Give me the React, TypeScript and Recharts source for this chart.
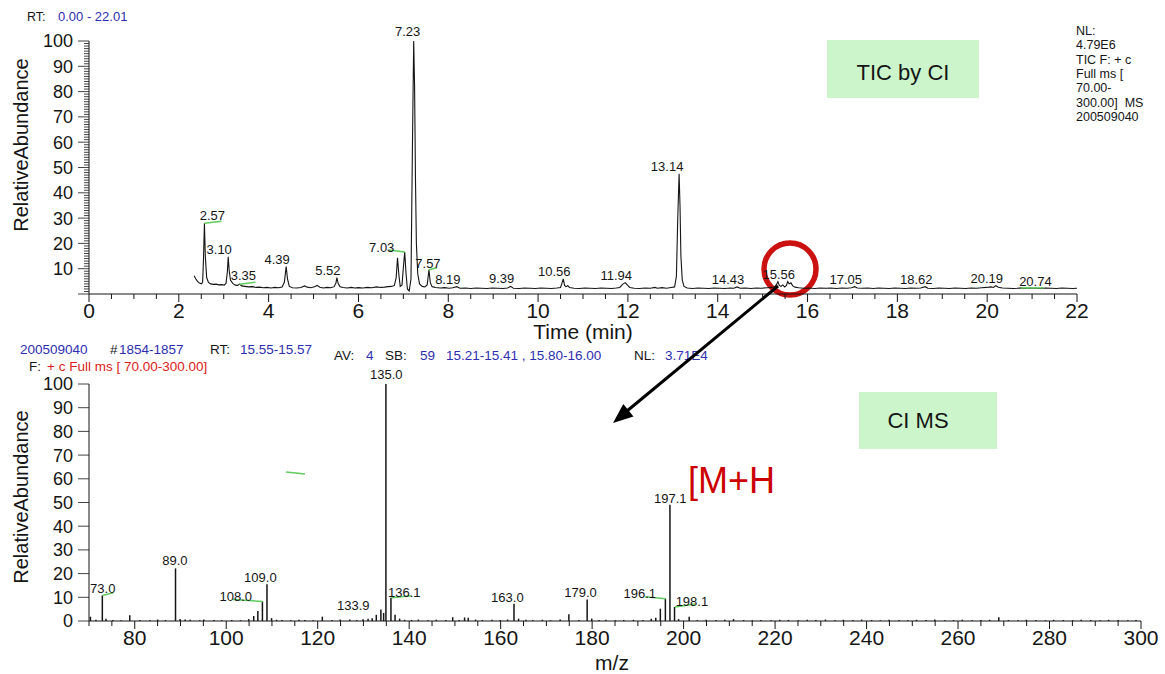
import { ComposedChart, Line, Bar, Scatter, XAxis, YAxis } from 'recharts'

const FONT = "'Liberation Sans', Arial, Helvetica, sans-serif"
const INK = '#151515'
const BLUE = '#2e2eb0'
const RED = '#dc1b1b'
const LEADER = '#5ecb5e'

// TIC trace: [retention time (min), relative abundance %]
const ticTrace: [number, number][] = [
  [2.34, 7.2], [2.38, 5.9], [2.42, 4.9], [2.46, 4.3], [2.5, 4.0], [2.53, 4.6], [2.55, 14], [2.57, 28],
  [2.59, 15], [2.62, 6.5], [2.66, 4.6], [2.71, 4.0], [2.77, 3.8], [2.83, 3.9], [2.89, 3.6], [2.95, 3.7],
  [3.01, 3.5], [3.05, 4.2], [3.08, 8.5], [3.1, 14.7], [3.12, 9.5], [3.15, 5.5], [3.2, 4.2], [3.26, 3.5],
  [3.31, 3.4], [3.35, 3.9], [3.4, 3.2], [3.47, 3.0], [3.55, 2.8], [3.64, 2.9], [3.72, 2.6], [3.8, 2.7],
  [3.88, 2.5], [3.96, 2.6], [4.05, 2.4], [4.14, 2.6], [4.22, 2.5], [4.3, 2.8], [4.35, 4.6], [4.39, 10.8],
  [4.42, 6.0], [4.46, 3.0], [4.53, 2.5], [4.62, 2.4], [4.72, 2.6], [4.8, 3.2], [4.86, 2.7], [4.94, 2.5],
  [5.02, 2.9], [5.08, 3.4], [5.14, 2.7], [5.22, 2.4], [5.3, 2.6], [5.38, 2.5], [5.46, 2.9], [5.5, 4.4],
  [5.52, 6.5], [5.55, 4.0], [5.59, 2.9], [5.66, 2.6], [5.75, 2.4], [5.84, 2.6], [5.92, 2.4], [6.0, 2.5],
  [6.1, 2.4], [6.2, 2.6], [6.3, 2.5], [6.4, 2.8], [6.5, 2.6], [6.58, 2.7], [6.66, 2.9], [6.74, 3.0],
  [6.8, 3.4], [6.84, 6.5], [6.87, 14.3], [6.9, 7.5], [6.93, 3.0], [6.97, 3.6], [7.0, 10.5], [7.03, 16.6],
  [7.06, 8.0], [7.09, 2.0], [7.13, 1.2], [7.17, 6.0], [7.2, 55], [7.23, 100], [7.25, 82], [7.27, 45],
  [7.29, 20], [7.32, 8.0], [7.36, 4.0], [7.42, 3.0], [7.48, 2.8], [7.53, 3.6], [7.55, 6.5], [7.57, 9.6],
  [7.6, 4.5], [7.64, 2.9], [7.72, 2.6], [7.82, 2.4], [7.92, 2.5], [8.02, 2.3], [8.1, 2.5], [8.19, 2.9],
  [8.26, 2.3], [8.38, 2.4], [8.5, 2.2], [8.62, 2.4], [8.74, 2.3], [8.86, 2.2], [8.98, 2.4], [9.1, 2.3],
  [9.22, 2.2], [9.32, 2.4], [9.39, 3.0], [9.45, 2.3], [9.58, 2.2], [9.7, 2.4], [9.82, 2.3], [9.94, 2.2],
  [10.06, 2.4], [10.18, 2.3], [10.3, 2.2], [10.42, 2.4], [10.5, 2.6], [10.53, 4.2], [10.56, 6.0], [10.59, 3.4],
  [10.62, 2.9], [10.66, 3.3], [10.7, 2.6], [10.8, 2.3], [10.92, 2.2], [11.04, 2.4], [11.16, 2.3], [11.28, 2.2],
  [11.4, 2.4], [11.52, 2.3], [11.64, 2.2], [11.74, 2.4], [11.82, 2.6], [11.88, 3.8], [11.94, 4.5], [11.99, 3.5],
  [12.04, 2.6], [12.14, 2.3], [12.26, 2.2], [12.38, 2.4], [12.5, 2.3], [12.6, 2.6], [12.66, 2.3], [12.76, 2.5],
  [12.86, 2.3], [12.96, 2.6], [13.04, 2.8], [13.08, 7.0], [13.11, 30], [13.14, 47.5], [13.16, 35], [13.18, 15],
  [13.21, 5.5], [13.25, 3.0], [13.32, 2.4], [13.44, 2.2], [13.56, 2.4], [13.68, 2.3], [13.8, 2.2], [13.92, 2.4],
  [14.04, 2.3], [14.16, 2.2], [14.28, 2.4], [14.36, 2.3], [14.43, 2.8], [14.5, 2.3], [14.62, 2.4], [14.74, 2.2],
  [14.86, 2.4], [14.98, 2.3], [15.1, 2.5], [15.2, 2.6], [15.27, 2.9], [15.31, 3.8], [15.34, 4.9], [15.37, 3.4],
  [15.41, 3.0], [15.45, 3.6], [15.49, 2.8], [15.53, 3.4], [15.56, 4.9], [15.59, 4.0], [15.63, 4.4], [15.67, 3.2],
  [15.72, 2.7], [15.8, 2.5], [15.92, 2.3], [16.04, 2.4], [16.16, 2.2], [16.28, 2.4], [16.4, 2.3], [16.52, 2.4],
  [16.64, 2.2], [16.76, 2.4], [16.88, 2.3], [16.98, 2.5], [17.05, 2.9], [17.11, 2.4], [17.22, 2.3], [17.34, 2.4],
  [17.46, 2.2], [17.58, 2.4], [17.7, 2.3], [17.82, 2.2], [17.94, 2.4], [18.06, 2.3], [18.18, 2.2], [18.3, 2.4],
  [18.42, 2.3], [18.52, 2.4], [18.62, 2.9], [18.68, 2.3], [18.8, 2.2], [18.92, 2.4], [19.04, 2.3], [19.16, 2.2],
  [19.28, 2.4], [19.4, 2.3], [19.52, 2.2], [19.64, 2.4], [19.76, 2.3], [19.88, 2.5], [19.98, 2.6], [20.08, 2.8],
  [20.14, 2.6], [20.19, 3.3], [20.25, 2.7], [20.34, 2.4], [20.46, 2.3], [20.58, 2.2], [20.68, 2.3], [20.74, 2.4],
  [20.82, 2.2], [20.94, 2.4], [21.06, 2.3], [21.18, 2.2], [21.3, 2.4], [21.42, 2.3], [21.54, 2.2], [21.66, 2.4],
  [21.78, 2.3], [21.9, 2.2], [22.0, 2.3],
]

// peaks tagged with their retention time
const ticTaggedRt = [2.57, 3.1, 3.35, 4.39, 5.52, 7.03, 7.23, 7.57, 8.19, 9.39, 10.56, 11.94, 13.14, 14.43, 15.56, 17.05, 18.62, 20.19, 20.74]

// CI mass spectrum: [m/z, relative abundance %]
const msSticks: [number, number][] = [
  [70.4, 1.8], [71.6, 0.5], [73.0, 10.8], [73.8, 1.0], [75.3, 0.4], [77.1, 0.3], [79.0, 2.4], [81.2, 0.4],
  [83.4, 0.3], [85.1, 0.6], [86.8, 0.4], [89.0, 22.2], [90.0, 0.8], [91.1, 0.6], [92.2, 0.5], [94.3, 0.3],
  [95.2, 0.6], [97.4, 0.4], [99.1, 0.3], [101.3, 0.4], [103.2, 0.3], [105.0, 0.8], [106.1, 2.1], [107.0, 4.2],
  [108.0, 8.2], [109.0, 15.5], [110.0, 1.2], [111.1, 0.5], [112.3, 0.4], [114.2, 0.3], [116.0, 0.5], [117.3, 0.4],
  [119.1, 0.3], [121.1, 1.8], [123.2, 0.4], [125.0, 0.6], [127.1, 0.6], [128.6, 0.4], [130.0, 0.7], [131.1, 0.9],
  [132.0, 1.2], [132.9, 2.6], [133.9, 4.8], [134.5, 3.4], [135.0, 100], [136.1, 9.8], [137.0, 2.6], [138.0, 1.0],
  [139.1, 0.5], [140.6, 0.4], [142.1, 0.6], [144.2, 0.3], [146.0, 0.5], [148.1, 0.4], [149.6, 1.6], [151.0, 0.4],
  [152.2, 1.5], [153.0, 1.4], [154.6, 0.6], [156.1, 0.4], [158.2, 0.5], [160.0, 0.4], [161.6, 0.6], [163.0, 7.3],
  [164.0, 1.0], [165.6, 0.5], [167.1, 0.4], [169.2, 0.5], [171.0, 0.3], [173.1, 0.6], [175.0, 2.8], [177.2, 0.4],
  [179.0, 9.1], [180.0, 1.0], [181.6, 0.4], [183.1, 0.5], [185.2, 0.3], [187.0, 0.4], [189.1, 0.5], [191.2, 0.4],
  [193.0, 1.0], [194.0, 1.4], [195.0, 5.2], [196.1, 9.4], [197.1, 49], [198.1, 5.9], [199.0, 0.8], [201.3, 1.8],
  [203.1, 0.4], [205.0, 0.5], [207.2, 0.4], [209.1, 0.5], [211.0, 0.8], [213.2, 0.4], [215.1, 0.3], [217.0, 0.4],
  [219.2, 0.3], [221.1, 0.5], [223.0, 0.4], [225.2, 0.3], [227.1, 0.5], [229.0, 0.4], [231.1, 0.6], [233.2, 0.3],
  [235.0, 0.5], [237.1, 0.4], [239.0, 0.6], [241.2, 0.4], [243.1, 0.3], [245.0, 0.5], [247.2, 0.4], [249.1, 0.3],
  [251.0, 0.5], [253.1, 0.4], [255.0, 0.6], [257.2, 0.3], [259.1, 0.4], [261.0, 0.5], [263.2, 0.3], [265.1, 0.4],
  [267.0, 0.5], [269.0, 1.6], [271.1, 0.4], [273.2, 0.3], [275.0, 0.5], [277.1, 0.4], [279.2, 0.3], [281.0, 0.5],
  [283.1, 0.4], [285.2, 0.3], [287.0, 0.5], [289.1, 0.4], [291.2, 0.3], [293.0, 0.5], [295.1, 0.4], [297.2, 0.3],
  [299.0, 0.4],
]

// sticks tagged with their m/z
const msTaggedMz = [73.0, 89.0, 108.0, 109.0, 133.9, 135.0, 136.1, 163.0, 179.0, 196.1, 197.1, 198.1]

const timeLabels = [0, 2, 4, 6, 8, 10, 12, 14, 16, 18, 20, 22]
const ticAbundanceLabels = [10, 20, 30, 40, 50, 60, 70, 80, 90, 100]
const mzLabels = [80, 100, 120, 140, 160, 180, 200, 220, 240, 260, 280, 300]
const msAbundanceLabels = [0, 10, 20, 30, 40, 50, 60, 70, 80, 90, 100]

const nlLines = ['NL:', '4.79E6', 'TIC F: + c', 'Full ms [', '70.00-', '300.00]  MS', '200509040']

const range = (start: number, end: number, step: number) =>
  Array.from({ length: Math.round((end - start) / step) + 1 }, (_, i) => +(start + i * step).toFixed(3))

type TagPos = { dx: number; dy: number; lead?: [number, number] }

const ticTagDefault: TagPos = { dx: -9, dy: -3 }
const ticTagPos: Record<string, TagPos> = {
  '2.57': { dx: 8, dy: -3, lead: [17, -2] },
  '3.35': { dx: 4, dy: -4, lead: [16, -2] },
  '7.03': { dx: -23, dy: 0, lead: [-16, -2] },
  '7.23': { dx: -6, dy: -5 },
  '7.57': { dx: -1, dy: -2, lead: [8, -2] },
  '13.14': { dx: -12, dy: -3 },
  '20.74': { dx: 15, dy: -2, lead: [23, 0] },
}

const msTagDefault: TagPos = { dx: -7, dy: -2 }
const msTagPos: Record<string, TagPos> = {
  '73.0': { dx: 0, dy: -2, lead: [11, -3] },
  '89.0': { dx: -1, dy: -3 },
  '108.0': { dx: -27, dy: -1, lead: [-30, -2] },
  '133.9': { dx: -28, dy: 0 },
  '135.0': { dx: 0, dy: -5 },
  '136.1': { dx: 13, dy: -1, lead: [20, -2] },
  '196.1': { dx: -26, dy: -1, lead: [-21, -2] },
  '197.1': { dx: 0, dy: -2 },
  '198.1': { dx: 17, dy: -1, lead: [20, -3] },
}

const ticData = ticTrace.map(([rt, abundance]) => ({ rt, abundance }))
const ticTags = ticTaggedRt.map((rt) => ({ rt, abundance: ticTrace.find(([t]) => t === rt)![1] }))
const msData = msSticks.map(([mz, abundance]) => ({ mz, abundance }))
const msTags = msTaggedMz.map((mz) => ({ mz, abundance: msSticks.find(([m]) => m === mz)![1] }))

function PeakTag({ cx, cy, text, pos }: { cx: number; cy: number; text: string; pos: TagPos }) {
  return (
    <g>
      {pos.lead && (
        <line x1={cx} y1={cy} x2={cx + pos.lead[0]} y2={cy + pos.lead[1]} stroke={LEADER} strokeWidth={1.5} />
      )}
      <text x={cx + pos.dx} y={cy + pos.dy} textAnchor="middle" fontSize={13} fontFamily={FONT} fill={INK}>
        {text}
      </text>
    </g>
  )
}

function BottomTick({ x, y, payload, labels }: any) {
  const major = labels.includes(payload.value)
  return (
    <g>
      <line x1={x} y1={y} x2={x} y2={y + (major ? 8 : 5)} stroke={INK} strokeWidth={1} />
      {major && (
        <text x={x} y={y + 24} textAnchor="middle" fontSize={21} fontFamily={FONT} fill={INK}>
          {payload.value}
        </text>
      )}
    </g>
  )
}

function LeftTick({ x, y, payload, labels, majorStep }: any) {
  const major = payload.value % majorStep === 0
  const labelled = labels.includes(payload.value)
  return (
    <g>
      <line x1={x - (major ? 11 : 5)} y1={y} x2={x} y2={y} stroke={INK} strokeWidth={0.8} />
      {labelled && (
        <text x={x - 16} y={y} dy="0.36em" textAnchor="end" fontSize={18} fontFamily={FONT} fill={INK}>
          {payload.value}
        </text>
      )}
    </g>
  )
}

function TicChart() {
  return (
    <ComposedChart width={1165} height={345} data={ticData} margin={{ top: 41, right: 88, bottom: 0, left: 0 }}>
      <XAxis
        dataKey="rt"
        type="number"
        domain={[0, 22]}
        ticks={range(0, 22, 0.5)}
        interval={0}
        height={51}
        tickSize={0}
        tickMargin={0}
        tickLine={false}
        axisLine={{ stroke: INK }}
        tick={(p: any) => <BottomTick {...p} labels={timeLabels} />}
      />
      <YAxis
        type="number"
        domain={[0, 100]}
        ticks={range(0, 100, 1)}
        interval={0}
        width={89}
        tickSize={0}
        tickMargin={0}
        tickLine={false}
        axisLine={{ stroke: INK }}
        tick={(p: any) => <LeftTick {...p} labels={ticAbundanceLabels} majorStep={10} />}
      />
      <Line
        dataKey="abundance"
        type="linear"
        stroke={INK}
        strokeWidth={1.1}
        dot={false}
        activeDot={false}
        isAnimationActive={false}
      />
      <Scatter
        data={ticTags}
        dataKey="abundance"
        isAnimationActive={false}
        shape={(p: any) => {
          const key = p.payload.rt.toFixed(2)
          return <PeakTag cx={p.cx} cy={p.cy} text={key} pos={ticTagPos[key] ?? ticTagDefault} />
        }}
      />
    </ComposedChart>
  )
}

function SpectrumChart() {
  return (
    <ComposedChart width={1165} height={334} data={msData} margin={{ top: 44, right: 24, bottom: 0, left: 0 }}>
      <XAxis
        dataKey="mz"
        type="number"
        domain={[70, 300]}
        ticks={range(70, 300, 5)}
        interval={0}
        height={53}
        tickSize={0}
        tickMargin={0}
        tickLine={false}
        axisLine={{ stroke: INK }}
        tick={(p: any) => <BottomTick {...p} labels={mzLabels} />}
      />
      <YAxis
        type="number"
        domain={[0, 100]}
        ticks={msAbundanceLabels}
        interval={0}
        width={89}
        tickSize={0}
        tickMargin={0}
        tickLine={false}
        axisLine={{ stroke: INK }}
        tick={(p: any) => <LeftTick {...p} labels={msAbundanceLabels} majorStep={10} />}
      />
      <Bar dataKey="abundance" fill={INK} barSize={1.5} isAnimationActive={false} />
      <Scatter
        data={msTags}
        dataKey="abundance"
        isAnimationActive={false}
        shape={(p: any) => {
          const key = p.payload.mz.toFixed(1)
          return <PeakTag cx={p.cx} cy={p.cy} text={key} pos={msTagPos[key] ?? msTagDefault} />
        }}
      />
    </ComposedChart>
  )
}

const layer = { position: 'absolute' as const, left: 0, top: 0, pointerEvents: 'none' as const }

// highlight boxes and the red ring sit underneath the traces
function BackNotes() {
  const t = { fontFamily: FONT, fill: INK }
  return (
    <svg width={1165} height={674} style={layer}>
      <rect x={827} y={40} width={152} height={58} fill="#ccf5cc" />
      <text x={903} y={80} textAnchor="middle" fontSize={22} {...t}>TIC by CI</text>
      <rect x={859} y={392} width={138} height={57} fill="#ccf5cc" />
      <text x={918} y={428} textAnchor="middle" fontSize={22} {...t}>CI MS</text>
      <circle cx={790} cy={269} r={26} fill="none" stroke="#cc1111" strokeWidth={5.5} />
    </svg>
  )
}

function FrontNotes() {
  const t = { fontFamily: FONT, fill: INK }
  return (
    <svg width={1165} height={674} style={layer}>
      {/* run header */}
      <text x={27} y={21} fontSize={12.5} {...t}>RT:</text>
      <text x={58} y={21} fontSize={13} fontFamily={FONT} fill={BLUE}>0.00 - 22.01</text>
      {nlLines.map((s, i) => (
        <text key={s} x={1076} y={35 + i * 14.3} fontSize={12.5} {...t} style={{ whiteSpace: 'pre' }}>
          {s}
        </text>
      ))}

      {/* axis titles */}
      <text transform="translate(28,145) rotate(-90)" textAnchor="middle" fontSize={20} {...t}>RelativeAbundance</text>
      <text transform="translate(28,497) rotate(-90)" textAnchor="middle" fontSize={20} {...t}>RelativeAbundance</text>
      <text x={583} y={339} textAnchor="middle" fontSize={21} {...t}>Time (min)</text>
      <text x={612} y={670} textAnchor="middle" fontSize={21} {...t}>m/z</text>

      {/* scan header */}
      <g fontSize={13.5} fontFamily={FONT}>
        <text x={20} y={354} fill={BLUE}>200509040</text>
        <text x={110} y={354} fill={INK}>#</text>
        <text x={119} y={354} fill={BLUE}>1854-1857</text>
        <text x={210} y={354} fill={INK}>RT:</text>
        <text x={240} y={354} fill={BLUE}>15.55-15.57</text>
        <text x={29} y={371} fill={INK}>F:</text>
        <text x={47} y={371} fill={RED} style={{ whiteSpace: 'pre' }}>+ c Full ms [ 70.00-300.00]</text>
        <text x={334} y={360} fill={INK}>AV:</text>
        <text x={366} y={360} fill={BLUE}>4</text>
        <text x={385} y={360} fill={INK}>SB:</text>
        <text x={420} y={360} fill={BLUE}>59</text>
        <text x={446} y={360} fill={BLUE}>15.21-15.41 , 15.80-16.00</text>
        <text x={634} y={360} fill={INK}>NL:</text>
        <text x={665} y={360} fill={BLUE}>3.71E4</text>
      </g>

      {/* callouts */}
      <text x={688} y={493} fontSize={36} fontFamily={FONT} fill="#cc0000">[M+H</text>
      <line x1={286} y1={472} x2={305} y2={474} stroke={LEADER} strokeWidth={1.5} />
      <line x1={778} y1={286} x2={627} y2={411} stroke="#000" strokeWidth={3} />
      <polygon points="613,423 633.5,416.4 623.3,404" fill="#000" />
    </svg>
  )
}

export default function App() {
  return (
    <div style={{ position: 'absolute', left: 0, top: 0, width: 1165, height: 674, background: '#fff', fontFamily: FONT }}>
      <BackNotes />
      <div style={{ position: 'absolute', left: 0, top: 0 }}>
        <TicChart />
      </div>
      <div style={{ position: 'absolute', left: 0, top: 340 }}>
        <SpectrumChart />
      </div>
      <FrontNotes />
    </div>
  )
}
